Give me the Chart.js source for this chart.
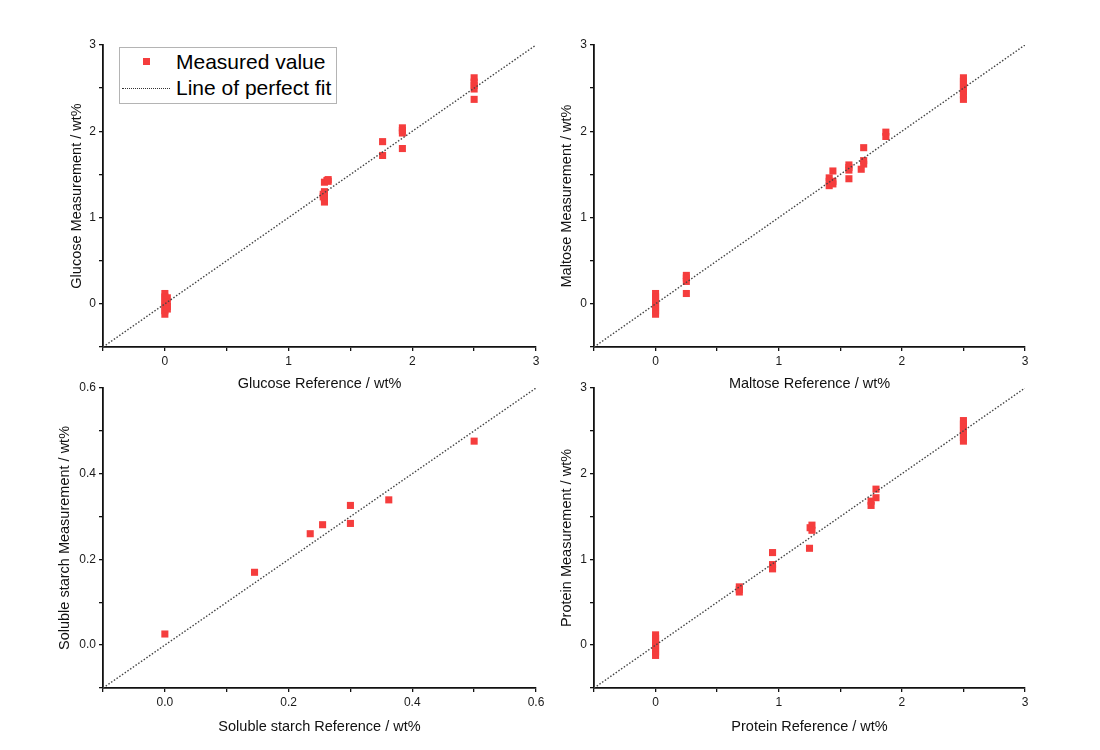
<!DOCTYPE html>
<html>
<head>
<meta charset="utf-8">
<script src="https://cdn.jsdelivr.net/npm/chart.js@4"></script>
<style>
  html, body { margin: 0; padding: 0; background: #fff; }
  body { width: 1100px; height: 750px; position: relative; overflow: hidden; font-family: "Liberation Sans", Arial, sans-serif; }
  .panel { position: absolute; }
  #legend { position: absolute; left: 119px; top: 47px; width: 216px; height: 55px; border: 1px solid #b4b4b4; background: #fff; }
  #legend .row { position: absolute; left: 0; font-size: 21px; color: #000; white-space: nowrap; }
  #legend .txt { position: absolute; left: 56px; top: 0; line-height: 24px; }
  #legend .mk { position: absolute; left: 23px; top: 8px; width: 7px; height: 7px; background: #f53d3d; }
  #legend .ln { position: absolute; left: 2px; top: 12px; width: 48px; height: 0; border-top: 1.6px dotted #333; }
</style>
</head>
<body>
<div class="panel" style="left:0;top:0;width:550px;height:400px;"><canvas id="c1"></canvas></div>
<div class="panel" style="left:550px;top:0;width:550px;height:400px;"><canvas id="c2"></canvas></div>
<div class="panel" style="left:0;top:360px;width:550px;height:390px;"><canvas id="c3"></canvas></div>
<div class="panel" style="left:550px;top:360px;width:550px;height:390px;"><canvas id="c4"></canvas></div>
<div id="legend">
  <div class="row" style="top:2px;width:216px;height:24px;"><div class="mk"></div><div class="txt">Measured value</div></div>
  <div class="row" style="top:28px;width:216px;height:24px;"><div class="ln"></div><div class="txt">Line of perfect fit</div></div>
</div>
<script>
// ---- Data ----
const glucoseRef  = [0, 0, 0, 0, 0, 0, 0, 0.02, 0.02, 0.02, 0.02,
                     1.29, 1.29, 1.29, 1.29, 1.28, 1.28, 1.29, 1.31, 1.32, 1.32,
                     1.76, 1.76, 1.92, 1.92, 1.92, 1.92,
                     2.5, 2.5, 2.5, 2.5, 2.5];
const glucoseMeas = [0.12, 0.08, 0.04, 0.00, -0.04, -0.08, -0.12, 0.07, 0.02, -0.03, -0.06,
                     1.30, 1.26, 1.22, 1.18, 1.27, 1.24, 1.41, 1.43, 1.44, 1.42,
                     1.88, 1.72, 2.04, 2.01, 1.98, 1.80,
                     2.62, 2.57, 2.53, 2.49, 2.37];

const maltoseRef  = [0, 0, 0, 0, 0, 0, 0,
                     0.25, 0.25, 0.25, 0.25,
                     1.41, 1.41, 1.41, 1.44, 1.44, 1.44,
                     1.57, 1.57, 1.57, 1.57,
                     1.69, 1.69, 1.69, 1.67,
                     1.87, 1.87,
                     2.5, 2.5, 2.5, 2.5, 2.5, 2.5, 2.5];
const maltoseMeas = [0.12, 0.08, 0.04, 0.00, -0.04, -0.08, -0.12,
                     0.33, 0.30, 0.26, 0.12,
                     1.46, 1.42, 1.37, 1.54, 1.42, 1.39,
                     1.61, 1.58, 1.55, 1.45,
                     1.81, 1.66, 1.62, 1.56,
                     1.99, 1.94,
                     2.62, 2.58, 2.54, 2.50, 2.46, 2.42, 2.37];

const starchRef  = [0.0, 0.145, 0.235, 0.255, 0.300, 0.300, 0.362, 0.500];
const starchMeas = [0.026, 0.170, 0.260, 0.281, 0.326, 0.284, 0.339, 0.476];

const proteinRef  = [0, 0, 0, 0, 0, 0, 0,
                     0.68, 0.68, 0.68,
                     0.95, 0.95, 0.95,
                     1.25, 1.255, 1.27, 1.27,
                     1.79, 1.79, 1.75, 1.75,
                     2.5, 2.5, 2.5, 2.5, 2.5, 2.5, 2.5];
const proteinMeas = [0.12, 0.08, 0.04, 0.00, -0.04, -0.08, -0.12,
                     0.68, 0.65, 0.62,
                     1.08, 0.94, 0.89,
                     1.13, 1.37, 1.40, 1.34,
                     1.82, 1.72, 1.68, 1.63,
                     2.62, 2.58, 2.54, 2.50, 2.46, 2.42, 2.38];

const wtRange     = [-0.5, 3];
const starchRange = [-0.1, 0.6];

const RED = '#f53d3d';
const FONT = '"Liberation Sans", Arial, sans-serif';

function pts(xs, ys) { return xs.map((x, i) => ({ x: x, y: ys[i] })); }

function intLabel(v) { return Math.abs(v - Math.round(v)) < 1e-6 ? String(Math.round(v)) : ''; }
function starchLabel(v) {
  const k = Math.round(v * 10);
  return (k >= 0 && k % 2 === 0) ? (k / 10).toFixed(1) : '';
}

function makeChart(id, xs, ys, range, step, labelFn, xTitle, yTitle, lay) {
  const axisCommon = (title, isX) => ({
    type: 'linear',
    min: range[0], max: range[1],
    ticks: {
      stepSize: step, autoSkip: false, maxRotation: 0, padding: 3,
      color: '#1a1a1a', font: { family: FONT, size: 12 },
      callback: (v) => labelFn(v)
    },
    grid: { drawOnChartArea: false, drawTicks: true, tickLength: 4, color: '#111', lineWidth: 1.3 },
    border: { display: true, color: '#111', width: 1.8 },
    title: { display: true, text: title, color: '#111', font: { family: FONT, size: 14.5 }, padding: 0 },
    afterFit: (s) => { if (isX) s.height = lay.xh; else s.width = lay.yw; }
  });
  new Chart(document.getElementById(id), {
    type: 'scatter',
    data: {
      datasets: [
        {
          type: 'line', label: 'Line of perfect fit',
          data: pts(range, range),
          borderColor: '#444', borderWidth: 1.4, borderDash: [1.5, 1.8],
          pointRadius: 0, fill: false, order: 0
        },
        {
          label: 'Measured value',
          data: pts(xs, ys),
          pointStyle: 'rect', pointRadius: 5, pointHoverRadius: 5,
          backgroundColor: RED, borderWidth: 0, order: 1
        }
      ]
    },
    options: {
      responsive: true, maintainAspectRatio: false, animation: false, events: [],
      layout: { padding: lay.pad },
      plugins: { legend: { display: false }, tooltip: { enabled: false } },
      scales: { x: axisCommon(xTitle, true), y: axisCommon(yTitle, false) }
    }
  });
}

// Panel 1: chart area x 103-536, y 45-347 (canvas at 0,0 550x400)
makeChart('c1', glucoseRef, glucoseMeas, wtRange, 0.5, intLabel,
  'Glucose Reference / wt%', 'Glucose Measurement / wt%',
  { yw: 34.4, xh: 45.7, pad: { left: 68.6, top: 45, right: 14, bottom: 7.3 } });
// Panel 2: chart area x 594-1025, y 45-347 (canvas at 550,0)
makeChart('c2', maltoseRef, maltoseMeas, wtRange, 0.5, intLabel,
  'Maltose Reference / wt%', 'Maltose Measurement / wt%',
  { yw: 35.4, xh: 45.7, pad: { left: 8.6, top: 45, right: 75, bottom: 7.3 } });
// Panel 3: chart area x 103-536, y 388-688 (canvas at 0,360 550x390)
makeChart('c3', starchRef, starchMeas, starchRange, 0.1, starchLabel,
  'Soluble starch Reference / wt%', 'Soluble starch Measurement / wt%',
  { yw: 46.4, xh: 47.7, pad: { left: 56.6, top: 28, right: 14, bottom: 14.3 } });
// Panel 4: chart area x 594-1025, y 388-688 (canvas at 550,360)
makeChart('c4', proteinRef, proteinMeas, wtRange, 0.5, intLabel,
  'Protein Reference / wt%', 'Protein Measurement / wt%',
  { yw: 35.4, xh: 47.7, pad: { left: 8.6, top: 28, right: 75, bottom: 14.3 } });
</script>
</body>
</html>
